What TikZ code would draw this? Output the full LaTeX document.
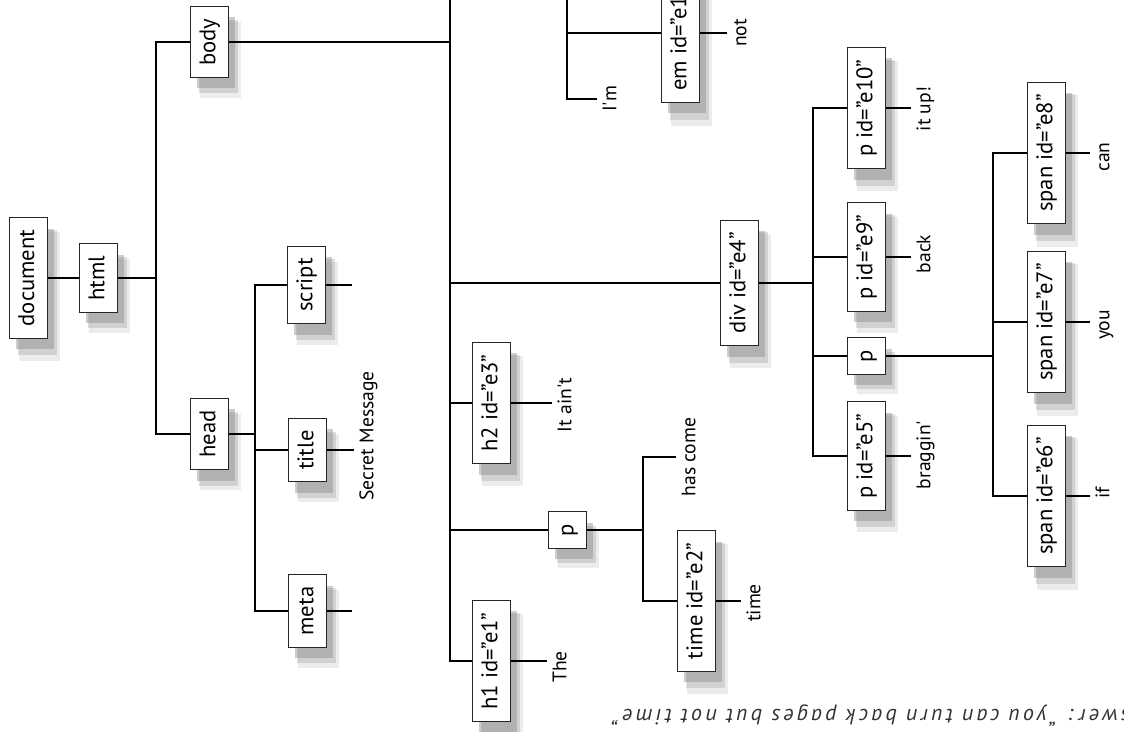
\documentclass[tikz,border=0pt]{standalone}
\usepackage{fontspec}
\setmainfont{PT Sans}
\usetikzlibrary{shadows}

\tikzset{
  dom/.style={draw=black!85,line width=.5pt,fill=white,rotate=90,minimum height=19pt,inner xsep=6pt,
    font=\fontsize{11.3}{13}\selectfont,text height=1.5ex,text depth=.25ex,
    drop shadow={shadow xshift=5.5pt,shadow yshift=-8.5pt,opacity=.15,shadow scale=1.07},
    drop shadow={shadow xshift=4.5pt,shadow yshift=-7pt,opacity=.25,shadow scale=1.04},
    drop shadow={shadow xshift=3.5pt,shadow yshift=-5.5pt,opacity=.4}},
  leaf/.style={rotate=90,anchor=north,inner sep=2pt,
    font=\fontsize{9.8}{11}\selectfont,text height=1.5ex,text depth=.25ex},
  wire/.style={line width=.8pt}
}

\begin{document}
\begin{tikzpicture}[x=0.5pt,y=-0.5pt]
\useasboundingbox (0,0) rectangle (1124,732);

  % document, html and its two children
  \node[dom] (document) at (28,278) {document};
  \node[dom] (html) at (98,278) {html};
  \node[dom] (body) at (209,42) {body};
  \node[dom] (head) at (209,434) {head};

  % head
  \node[dom] (script) at (306,285) {script};
  \node[dom] (title) at (307,450) {title};
  \node[dom] (meta) at (307,611) {meta};
  \node[leaf] (tsecret) at (354,436) {Secret Message};

  % body, left part
  \node[dom] (h1) at (491,661) {h1 id="e1"};
  \node[leaf] (tthe) at (547,667) {The};
  \node[dom] (pa) at (567,530) {p};
  \node[leaf] (thascome) at (676,457) {has come};
  \node[dom] (time) at (696,601) {time id="e2"};
  \node[leaf] (ttime) at (741,603) {time};
  \node[dom] (h2) at (491,403) {h2 id="e3"};
  \node[leaf] (tain) at (552,405) {It ain\textquotesingle t};

  % the p above the top edge
  \node[leaf] (tim) at (597,99) {I\textquotesingle m};
  \node[dom,anchor=west] (em) at (680,103) {em id="e11"};
  \node[leaf] (tnot) at (727,33) {not};

  % div and its children
  \node[dom] (div) at (739,283) {div id="e4"};
  \node[dom] (pe10) at (866,108) {p id="e10"};
  \node[dom] (pe9) at (866,257) {p id="e9"};
  \node[dom] (pb) at (866,356) {p};
  \node[dom] (pe5) at (866,456) {p id="e5"};
  \node[leaf] (titup) at (911,109) {it up!};
  \node[leaf] (tback) at (911,254) {back};
  \node[leaf] (tbraggin) at (911,455) {braggin\textquotesingle};

  % spans
  \node[dom] (se8) at (1046,153) {span id="e8"};
  \node[dom] (se7) at (1046,322) {span id="e7"};
  \node[dom] (se6) at (1046,496) {span id="e6"};
  \node[leaf] (tcan) at (1090,157) {can};
  \node[leaf] (tyou) at (1090,325) {you};
  \node[leaf] (tif) at (1090,493) {if};

  % answer, upside down
  \node[rotate=180,anchor=east,text=black!80,
    font=\fontsize{11}{13}\selectfont\itshape\addfontfeature{LetterSpace=15}] (answer)
    at (606,716) {Answer: “you can turn back pages but not time”};

% bars
\coordinate (htmlbar) at (156,0);
\coordinate (headbar) at (255,0);
\coordinate (bodybar) at (450,-20);
\coordinate (ptopbar) at (567,-20);
\coordinate (pabar) at (643,0);
\coordinate (divbar) at (813,0);
\coordinate (pbbar) at (993,0);
\coordinate (tailend) at (352,0);

\draw[wire] (document.south) -- (html.north);
\foreach \c in {body,head}
  \draw[wire] (html.south) -- (html.south -| htmlbar) |- (\c.north);
\foreach \c in {script,title,meta}
  \draw[wire] (head.south) -- (head.south -| headbar) |- (\c.north);
\draw[wire] (body.south) -- (body.south -| bodybar);
\foreach \c in {div,h2,pa,h1}
  \draw[wire] (bodybar) |- (\c.north);
\draw[wire] (ptopbar) |- (em.north);
\draw[wire] (ptopbar) |- (tim.north);
\foreach \c in {thascome,time}
  \draw[wire] (pa.south) -- (pa.south -| pabar) |- (\c.north);
\foreach \c in {pe10,pe9,pb,pe5}
  \draw[wire] (div.south) -- (div.south -| divbar) |- (\c.north);
\foreach \c in {se8,se7,se6}
  \draw[wire] (pb.south) -- (pb.south -| pbbar) |- (\c.north);

% tails to the text
\foreach \n/\t in {title/tsecret,h1/tthe,time/ttime,h2/tain,em/tnot,pe10/titup,pe9/tback,pe5/tbraggin,se8/tcan,se7/tyou,se6/tif}
  \draw[wire] (\n.south) -- (\n.south -| \t.north);
\draw[wire] (script.south) -- (script.south -| tailend);
\draw[wire] (meta.south) -- (meta.south -| tailend);

\end{tikzpicture}
\end{document}
